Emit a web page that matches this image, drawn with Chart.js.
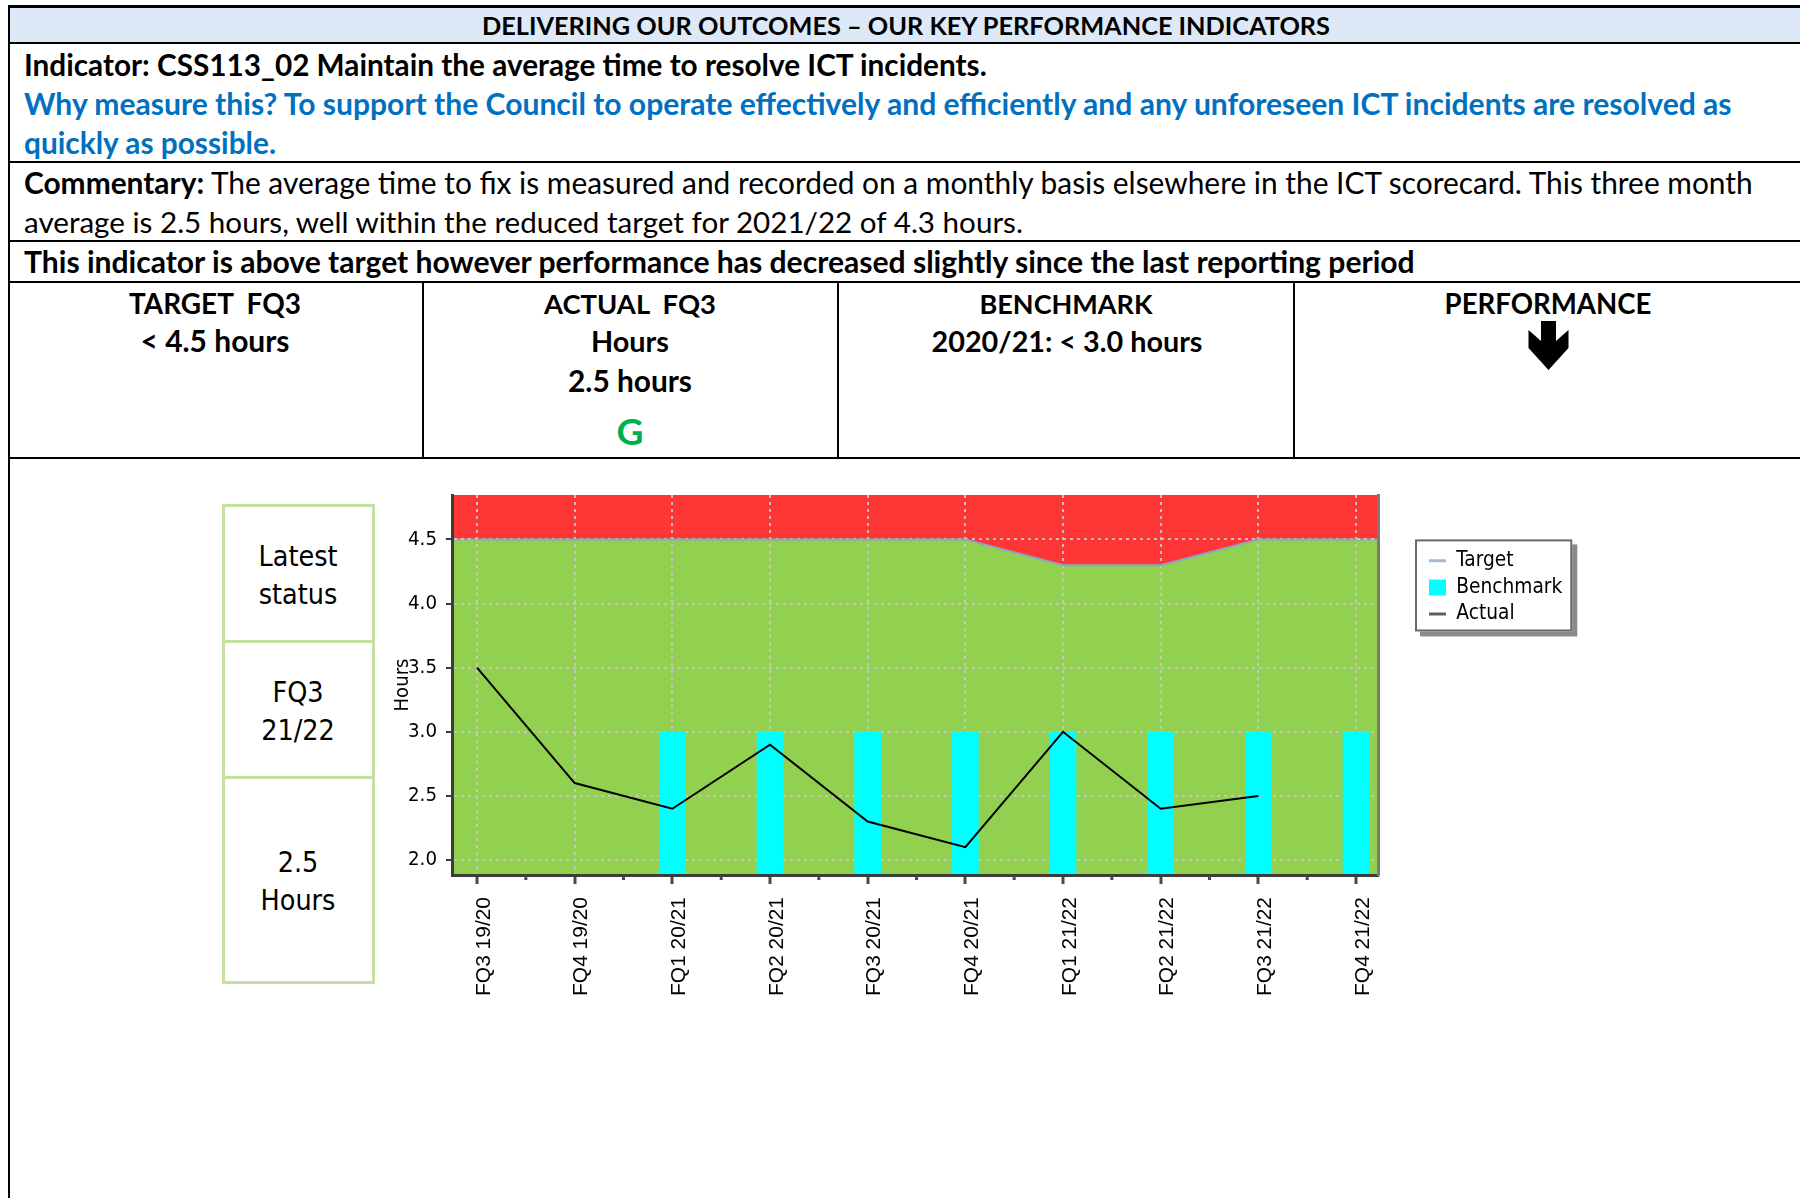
<!DOCTYPE html>
<html>
<head>
<meta charset="utf-8">
<title>KPI CSS113_02</title>
<script src="https://cdn.jsdelivr.net/npm/chart.js@4.4.1/dist/chart.umd.min.js"></script>
<style>
  html, body { margin:0; padding:0; background:#fff; }
  body { width:1800px; height:1198px; position:relative; overflow:hidden; font-family: Lato, "Open Sans", sans-serif; color:#000; }
  .ln { position:absolute; background:#000; }
  .t { position:absolute; white-space:pre; line-height:1; transform:translateY(-50%); }
  .c { transform:translate(-50%,-50%); }
  .b { font-weight:700; }
  .blue { color:#0070c0; }
  .cell { position:absolute; box-sizing:border-box; border:3px solid #c5e0a3; }
  .ls { font-family:"DejaVu Sans Condensed","DejaVu Sans",sans-serif; }
  #chartBox { position:absolute; left:380px; top:465px; width:1220px; height:575px; }
</style>
</head>
<body>
<!-- table frame -->
<div style="position:absolute;left:10px;top:8px;width:1790px;height:34px;background:#dde9f6"></div>
<div class="ln" style="left:8px;top:5px;width:1792px;height:3px"></div>
<div class="ln" style="left:8px;top:5px;width:2px;height:1193px"></div>
<div class="ln" style="left:8px;top:42px;width:1792px;height:2px"></div>
<div class="ln" style="left:8px;top:161px;width:1792px;height:2px"></div>
<div class="ln" style="left:8px;top:240px;width:1792px;height:2px"></div>
<div class="ln" style="left:8px;top:281px;width:1792px;height:2px"></div>
<div class="ln" style="left:8px;top:457px;width:1792px;height:2px"></div>
<div class="ln" style="left:422px;top:281px;width:2px;height:178px"></div>
<div class="ln" style="left:837px;top:281px;width:2px;height:178px"></div>
<div class="ln" style="left:1293px;top:281px;width:2px;height:178px"></div>

<!-- texts -->
<div class="t c b fit" data-w="848" style="left:906px;top:26px">DELIVERING OUR OUTCOMES – OUR KEY PERFORMANCE INDICATORS</div>
<div class="t b fit" data-w="963" style="left:24px;top:65px">Indicator: CSS113_02 Maintain the average time to resolve ICT incidents.</div>
<div class="t b blue fit" data-w="1708" style="left:24px;top:103px">Why measure this? To support the Council to operate effectively and efficiently and any unforeseen ICT incidents are resolved as</div>
<div class="t b blue fit" data-w="252" style="left:24px;top:143px">quickly as possible.</div>
<div class="t fit" data-w="1729" style="left:24px;top:183px"><b>Commentary:</b> The average time to fix is measured and recorded on a monthly basis elsewhere in the ICT scorecard. This three month</div>
<div class="t fit" data-w="999" style="left:24px;top:222px">average is 2.5 hours, well within the reduced target for 2021/22 of 4.3 hours.</div>
<div class="t b fit" data-w="1391" style="left:24px;top:261px">This indicator is above target however performance has decreased slightly since the last reporting period</div>

<div class="t c b fit" data-w="172" style="left:215px;top:304px">TARGET  FQ3</div>
<div class="t c b fit" data-w="149" style="left:215px;top:341px">&lt; 4.5 hours</div>
<div class="t c b fit" data-w="172" style="left:630px;top:304px">ACTUAL  FQ3</div>
<div class="t c b fit" data-w="78" style="left:630px;top:341px">Hours</div>
<div class="t c b fit" data-w="124" style="left:630px;top:381px">2.5 hours</div>
<div class="t c b fit" data-w="27" style="left:630px;top:431px;color:#00b050">G</div>
<div class="t c b fit" data-w="173" style="left:1066px;top:304px">BENCHMARK</div>
<div class="t c b fit" data-w="271" style="left:1067px;top:341px">2020/21: &lt; 3.0 hours</div>
<div class="t c b fit" data-w="207" style="left:1548px;top:304px">PERFORMANCE</div>
<svg style="position:absolute;left:1500px;top:300px" width="100" height="80" viewBox="0 0 100 80">
  <polygon points="41,21 56,21 56,41 68.5,30 68.5,48 48.5,70 28.5,48 28.5,30 41,41" fill="#000"/>
</svg>

<!-- latest status box -->
<div class="cell" style="left:222px;top:504px;width:153px;height:139px"></div>
<div class="cell" style="left:222px;top:640px;width:153px;height:139px"></div>
<div class="cell" style="left:222px;top:776px;width:153px;height:208px"></div>
<div class="t c ls" style="left:298px;top:557px">Latest</div>
<div class="t c ls" style="left:298px;top:595px">status</div>
<div class="t c ls" style="left:298px;top:693px">FQ3</div>
<div class="t c ls" style="left:298px;top:731px">21/22</div>
<div class="t c ls" style="left:298px;top:863px">2.5</div>
<div class="t c ls" style="left:298px;top:901px">Hours</div>

<div id="chartBox"><canvas id="kpiChart"></canvas></div>

<script>
// ---------------- data ----------------
const categories = ['FQ3 19/20', 'FQ4 19/20', 'FQ1 20/21', 'FQ2 20/21', 'FQ3 20/21',
                    'FQ4 20/21', 'FQ1 21/22', 'FQ2 21/22', 'FQ3 21/22', 'FQ4 21/22'];
const targetValues    = [4.5, 4.5, 4.5, 4.5, 4.5, 4.5, 4.3, 4.3, 4.5, 4.5];
const benchmarkValues = [null, null, 3.0, 3.0, 3.0, 3.0, 3.0, 3.0, 3.0, 3.0];
const actualValues    = [3.5, 2.6, 2.4, 2.9, 2.3, 2.1, 3.0, 2.4, 2.5, null];
const yTickValues     = [2.0, 2.5, 3.0, 3.5, 4.0, 4.5];
const seriesLabels    = ['Target', 'Benchmark', 'Actual'];
const yAxisTitle      = 'Hours';

// ---------------- text fitting ----------------
document.querySelectorAll('.fit').forEach(el => {
  el.style.fontSize = '100px';
  const w = el.getBoundingClientRect().width;
  el.style.fontSize = (100 * (+el.dataset.w) / w).toFixed(2) + 'px';
});
const mc = document.createElement('canvas').getContext('2d');
function fitSize(text, family, weight, target) {
  mc.font = weight + ' 100px ' + family;
  return 100 * target / mc.measureText(text).width;
}
const TAHOMA = '"DejaVu Sans Condensed", "DejaVu Sans", sans-serif';
const ARIAL = '"Liberation Sans", Arial, sans-serif';
const lsSize = fitSize('Latest', TAHOMA, 'normal', 79);
document.querySelectorAll('.ls').forEach(el => el.style.fontSize = lsSize.toFixed(2) + 'px');
const legendSize = fitSize('Benchmark', TAHOMA, 'normal', 106);
const yTickSize = fitSize('2.0', TAHOMA, 'normal', 29);
const xTickSize = fitSize('FQ3 19/20', ARIAL, 'normal', 99);
const yTitleSize = fitSize('Hours', TAHOMA, 'normal', 53);

// ---------------- styles ----------------
const RED = '#ff3636', GREEN = '#92d050', CYAN = '#00ffff';
const TARGET_COLOR = '#8aa6c8';
const AXIS = '#3c3c3c';
const GRID = 'rgba(198,198,198,0.95)';
const PAD_TOP = 30;

const zonesPlugin = {
  id: 'zones',
  beforeDraw(chart) {
    const {ctx, chartArea: a} = chart;
    const pts = chart.getDatasetMeta(0).data;
    ctx.save();
    ctx.fillStyle = RED;
    ctx.fillRect(a.left, a.top, a.width, a.height);
    ctx.beginPath();
    ctx.moveTo(a.left, pts[0].y);
    pts.forEach(p => ctx.lineTo(p.x, p.y));
    ctx.lineTo(a.right, pts[pts.length - 1].y);
    ctx.lineTo(a.right, a.bottom);
    ctx.lineTo(a.left, a.bottom);
    ctx.closePath();
    ctx.fillStyle = GREEN;
    ctx.fill();
    ctx.strokeStyle = TARGET_COLOR;
    ctx.lineWidth = 2;
    ctx.beginPath();
    ctx.moveTo(a.left, pts[0].y); ctx.lineTo(pts[0].x, pts[0].y);
    ctx.moveTo(pts[pts.length - 1].x, pts[pts.length - 1].y); ctx.lineTo(a.right, pts[pts.length - 1].y);
    ctx.stroke();
    // legend frame with shadow
    const lg = chart.legend;
    if (lg && lg.legendHitBoxes && lg.legendHitBoxes.length) {
      const hb = lg.legendHitBoxes;
      const l = Math.min(...hb.map(h => h.left)) - 14;
      const t = hb[0].top - 11;
      const r = Math.max(...hb.map(h => h.left + h.width)) + 10;
      const b = hb[hb.length - 1].top + hb[hb.length - 1].height + 7;
      ctx.fillStyle = '#8a8a8a';
      ctx.fillRect(l + 5, t + 5, r - l, b - t);
      ctx.fillStyle = '#ffffff';
      ctx.fillRect(l, t, r - l, b - t);
      ctx.strokeStyle = '#6a6a6a';
      ctx.lineWidth = 2;
      ctx.strokeRect(l + 1, t + 1, r - l - 2, b - t - 2);
    }
    ctx.restore();
  },
  afterDraw(chart) {
    const {ctx, chartArea: a} = chart;
    const xs = chart.scales.x;
    ctx.save();
    ctx.strokeStyle = '#4a4a4a';
    ctx.lineWidth = 3;
    ctx.beginPath();
    for (let i = 0; i < categories.length - 1; i++) {
      const x = xs.getPixelForValue(i + 0.5);
      ctx.moveTo(x, a.bottom + 1);
      ctx.lineTo(x, a.bottom + 5);
    }
    ctx.stroke();
    ctx.restore();
  }
};

const chart = new Chart(document.getElementById('kpiChart'), {
  type: 'bar',
  data: {
    datasets: [
      { type: 'line', label: seriesLabels[0], data: targetValues.map((v, i) => ({x: i, y: v})),
        borderColor: TARGET_COLOR, borderWidth: 2, pointRadius: 0, fill: false, tension: 0, order: 3,
        legendColor: '#a3bad4', legendLine: 3, legendPoint: 'line' },
      { type: 'bar', label: seriesLabels[1], data: benchmarkValues.map((v, i) => ({x: i, y: v})),
        backgroundColor: CYAN, borderWidth: 0, barThickness: 26, order: 2,
        legendColor: CYAN, legendLine: 0, legendPoint: 'rect' },
      { type: 'line', label: seriesLabels[2], data: actualValues.map((v, i) => ({x: i, y: v})),
        borderColor: '#000', borderWidth: 2, pointRadius: 0, fill: false, tension: 0, spanGaps: false, order: 1,
        legendColor: '#5f5f5f', legendLine: 3, legendPoint: 'line' }
    ]
  },
  options: {
    responsive: true,
    maintainAspectRatio: false,
    devicePixelRatio: 1,
    animation: false,
    events: [],
    layout: { padding: { left: 0, top: PAD_TOP, right: 35, bottom: 0 } },
    plugins: {
      tooltip: { enabled: false },
      legend: {
        display: true, position: 'right', align: 'start', fullSize: false,
        title: { display: true, text: '', padding: { top: 35, bottom: 0 }, font: { size: 12 } },
        labels: {
          usePointStyle: true, pointStyleWidth: 17, boxHeight: 16, padding: 6, color: '#000',
          font: { family: TAHOMA, size: legendSize },
          generateLabels: (ch) => ch.data.datasets.map((ds, i) => ({
            text: ds.label, datasetIndex: i, hidden: false,
            fillStyle: ds.legendColor, strokeStyle: ds.legendColor,
            lineWidth: ds.legendLine, pointStyle: ds.legendPoint, fontColor: '#000'
          }))
        }
      }
    },
    scales: {
      x: {
        type: 'linear', min: -0.256, max: 9.225, offset: false,
        afterBuildTicks: (s) => { s.ticks = categories.map((c, i) => ({value: i})); },
        afterFit: (s) => { s.height = 165; },
        ticks: {
          autoSkip: false, maxRotation: 90, minRotation: 90, padding: 13, labelOffset: 7, color: '#000',
          font: { family: ARIAL, size: xTickSize },
          callback: (v) => categories[v]
        },
        grid: { offset: false, color: GRID, lineWidth: 2, tickLength: 9, tickColor: '#4a4a4a', tickWidth: 3 },
        border: { dash: [3, 4], color: AXIS, width: 3, z: 1 }
      },
      y: {
        type: 'linear', position: 'left', min: 1.883, max: 4.847,
        afterBuildTicks: (s) => { s.ticks = yTickValues.map(v => ({value: v})); },
        afterFit: (s) => { s.width = 72; },
        ticks: { padding: 9, color: '#000', font: { family: TAHOMA, size: yTickSize }, callback: (v) => v.toFixed(1) },
        grid: { color: GRID, lineWidth: 2, tickLength: 6, tickColor: AXIS, tickWidth: 2 },
        border: { dash: [3, 4], color: AXIS, width: 3, z: 1 },
        title: { display: true, text: yAxisTitle, color: '#000', font: { family: TAHOMA, size: yTitleSize },
                 padding: { top: 23 - yTitleSize * 0.6, bottom: 0 } }
      },
      y2: {
        type: 'linear', position: 'right', display: true,
        ticks: { display: false },
        grid: { display: false, drawTicks: false },
        border: { display: true, color: '#7a7a7a', width: 3, z: 1 },
        afterFit: (s) => { s.width = 45; }
      }
    }
  },
  plugins: [zonesPlugin]
});

// keep plot right edge where the reference has it
const wantRight = 1378 - 380;
const diff = chart.chartArea.right - wantRight;
if (Math.abs(diff) > 0.5) {
  chart.config.options.layout.padding.right += diff;
  chart.update('none');
}
</script>
</body>
</html>
